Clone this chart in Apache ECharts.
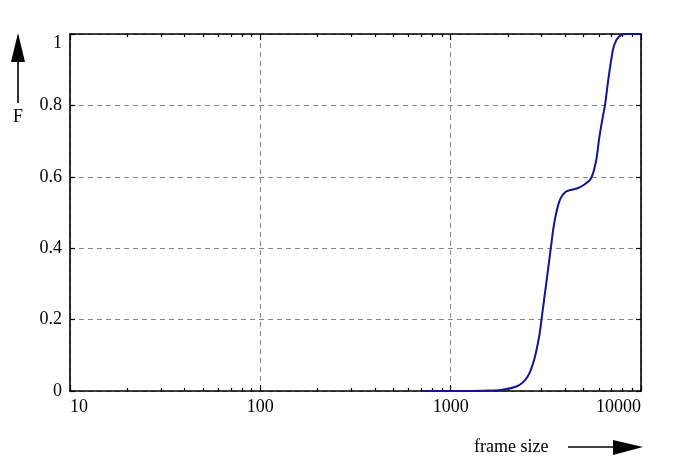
<!DOCTYPE html>
<html>
<head>
<meta charset="utf-8">
<script src="https://cdn.jsdelivr.net/npm/echarts@6/dist/echarts.min.js"></script>
<style>html,body{margin:0;padding:0;background:#fff;}#c{width:693px;height:467px;}</style>
</head>
<body>
<div id="c"></div>
<script>
var frameSize = [713, 1000, 1500, 1833, 2244, 2535, 2743, 2916, 3000, 3175, 3358, 3497, 3716, 4027, 4642, 5000, 5456, 5800, 6035, 6286, 6465, 6679, 6952, 7236, 7686, 8340, 10000];
var cdf = [0, 0, 0.001, 0.003, 0.014, 0.040, 0.087, 0.152, 0.200, 0.300, 0.400, 0.469, 0.530, 0.558, 0.568, 0.577, 0.595, 0.643, 0.709, 0.765, 0.800, 0.858, 0.923, 0.970, 0.994, 1.0, 1.0];
var xTickLabels = [10, 100, 1000, 10000];
var xMinorTicks = [20,30,40,50,60,70,80,90,200,300,400,500,600,700,800,900,2000,3000,4000,5000,6000,7000,8000,9000];
var yTickLabels = [0, 0.2, 0.4, 0.6, 0.8, 1];

var FONT = 'Liberation Serif';
var chart = echarts.init(document.getElementById('c'), null, {renderer: 'canvas'});
var pts = frameSize.map(function (v, i) { return [v, cdf[i]]; });

function xa(pos, minor, show) {
  return {
    type: 'log', logBase: 10, min: 10, max: 10000, position: pos, offset: 0,
    axisLine: {show: !minor, onZero: false, lineStyle: {color: '#000', width: 1.6}},
    axisTick: minor
      ? {show: true, inside: true, length: 3, customValues: xMinorTicks, lineStyle: {color: '#000', width: 1.2}}
      : {show: true, inside: true, length: 6, customValues: xTickLabels, lineStyle: {color: '#000', width: 1.2}},
    axisLabel: show
      ? {show: true, customValues: xTickLabels, color: '#000', fontFamily: FONT, fontSize: 18, margin: 7,
         alignMinLabel: 'left', alignMaxLabel: 'right', showMinLabel: true, showMaxLabel: true,
         formatter: function (v) { return String(Math.round(v)); }}
      : {show: false},
    splitLine: {show: show, lineStyle: {color: '#888', type: [5, 4], width: 1}},
    minorTick: {show: false}, minorSplitLine: {show: false}
  };
}

chart.setOption({
  animation: false,
  backgroundColor: '#fff',
  grid: {left: 70, right: 52, top: 34, bottom: 76, containLabel: false},
  xAxis: [xa('bottom', false, true), xa('bottom', true, false), xa('top', false, false), xa('top', true, false)],
  yAxis: [
    {type: 'value', min: 0, max: 1, interval: 0.2, position: 'left',
     axisLine: {show: true, lineStyle: {color: '#000', width: 1.6}},
     axisTick: {show: true, inside: true, length: 5, lineStyle: {color: '#000', width: 1.2}},
     axisLabel: {color: '#000', fontFamily: FONT, fontSize: 18, margin: 8,
       verticalAlignMaxLabel: 'top',
       formatter: function (v) { return String(Math.round(v * 10) / 10); }},
     splitLine: {show: true, lineStyle: {color: '#888', type: [5, 4], width: 1}}},
    {type: 'value', min: 0, max: 1, interval: 0.2, position: 'right',
     axisLine: {show: true, lineStyle: {color: '#000', width: 1.6}},
     axisTick: {show: true, inside: true, length: 5, lineStyle: {color: '#000', width: 1.2}},
     axisLabel: {show: false}, splitLine: {show: false}}
  ],
  series: [{
    type: 'line', xAxisIndex: 0, yAxisIndex: 0, data: pts,
    smooth: 0.3, showSymbol: false, symbol: 'none',
    lineStyle: {color: '#14148c', width: 2}
  }],
  graphic: [
    {type: 'line', shape: {x1: 18, y1: 103, x2: 18, y2: 58}, style: {stroke: '#000', lineWidth: 1.6}},
    {type: 'polygon', shape: {points: [[18, 33], [11, 62], [25, 62]]}, style: {fill: '#000'}},
    {type: 'text', x: 18, y: 117, style: {text: 'F', font: '18px "Liberation Serif"', fill: '#000', align: 'center', verticalAlign: 'middle'}},
    {type: 'text', x: 474, y: 447, style: {text: 'frame size', font: '18px "Liberation Serif"', fill: '#000', align: 'left', verticalAlign: 'middle'}},
    {type: 'line', shape: {x1: 568, y1: 447, x2: 618, y2: 447}, style: {stroke: '#000', lineWidth: 1.6}},
    {type: 'polygon', shape: {points: [[643, 447], [613, 440], [613, 455]]}, style: {fill: '#000'}}
  ]
});
</script>
</body>
</html>
